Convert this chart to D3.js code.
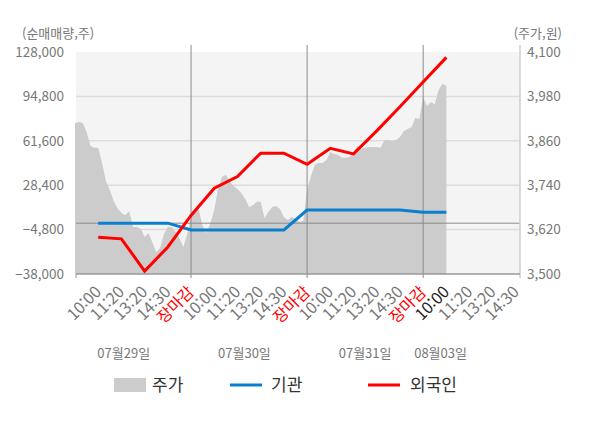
<!DOCTYPE html>
<html lang="ko">
<head>
<meta charset="utf-8"/>
<title>순매매량 / 주가</title>
<script src="https://d3js.org/d3.v7.min.js"></script>
<style>
  body { margin: 0; background: #fff; }
  text { font-family: "Noto Sans CJK KR", "Noto Sans", sans-serif; }
</style>
</head>
<body>
<script>
// data
var timeLabels = ["10:00", "11:20", "13:20", "14:30", "장마감",
                  "10:00", "11:20", "13:20", "14:30", "장마감",
                  "10:00", "11:20", "13:20", "14:30", "장마감",
                  "10:00", "11:20", "13:20", "14:30"];
var dates = ["07월29일", "07월30일", "07월31일", "08월03일"];

// net buying (shares) at slots 1..16
var gigwan  = [0, 0, 0, 0, -5100, -5100, -5100, -5100, -5100, 9800, 9800, 9800, 9800, 9800, 8100, 8100];
var foreign = [-10500, -11700, -35800, -17800, 5800, 26100, 34800, 52300, 52300, 44000, 56000, 51800, 69000, 87000, 105600, 124000];

// share price, sampled every 1/6 slot from slot 0 to slot 16
var price = [3908, 3911, 3908, 3884, 3846, 3841, 3841, 3800, 3751, 3727, 3697, 3678,
             3665, 3659, 3670, 3627, 3627, 3622, 3600, 3611, 3586, 3559, 3570, 3608,
             3627, 3627, 3614, 3597, 3573, 3608, 3654, 3676, 3673, 3630, 3611, 3638,
             3673, 3732, 3762, 3768, 3751, 3738, 3730, 3719, 3703, 3681, 3686, 3695,
             3695, 3651, 3668, 3681, 3684, 3676, 3654, 3646, 3654, 3649, 3641, 3643,
             3727, 3765, 3795, 3800, 3800, 3808, 3830, 3824, 3822, 3814, 3814, 3816,
             3830, 3846, 3838, 3841, 3843, 3843, 3843, 3841, 3862, 3862, 3859, 3862,
             3870, 3886, 3892, 3897, 3922, 3919, 3978, 3954, 3965, 3959, 3997, 4014, 4008];

var leftTicks  = [-38000, -4800, 28400, 61600, 94800, 128000];
var rightTicks = [3500, 3620, 3740, 3860, 3980, 4100];

// layout (plot box)
var w = 600, h = 428;
var pL = 76, pR = 520, pT = 52, pB = 274;
var dateSlot = [2.1, 7.3, 12.5, 15.75]; // where the date captions sit
var grey = "#777";

var svg = d3.select("body").append("svg")
    .attr("width", w)
    .attr("height", h);

var x = d3.scaleLinear().domain([0, 19]).range([75, 516]);
var yL = d3.scaleLinear().domain([-38000, 128000]).range([pB, pT]);
var yR = d3.scaleLinear().domain([3500, 4100]).range([pB, pT]);
var fmt = d3.format(",");

// plot background
svg.append("rect")
    .attr("x", pL).attr("y", pT)
    .attr("width", pR - pL).attr("height", pB - pT)
    .attr("fill", "#f4f4f4");

// horizontal grid
svg.selectAll(".grid")
    .data(leftTicks.slice(1, -1))
    .enter().append("line")
    .attr("x1", pL).attr("x2", pR)
    .attr("y1", function(d) { return yL(d); })
    .attr("y2", function(d) { return yL(d); })
    .attr("stroke", "#dcdcdc")
    .attr("stroke-width", 1.5);

// price area
var area = d3.area()
    .x(function(d, i) { return x(i / 6); })
    .y0(pB)
    .y1(function(d) { return yR(d); });

svg.append("path")
    .datum(price)
    .attr("d", area)
    .attr("fill", "#cccccc");

// zero line
svg.append("line")
    .attr("x1", pL).attr("x2", pR)
    .attr("y1", yL(0)).attr("y2", yL(0))
    .attr("stroke", "#8a8a8a")
    .attr("stroke-width", 1);

// day separators
svg.selectAll(".sep")
    .data([5, 10, 15])
    .enter().append("line")
    .attr("x1", function(d) { return x(d); })
    .attr("x2", function(d) { return x(d); })
    .attr("y1", 45).attr("y2", pB + 4)
    .attr("stroke", "#8a8a8a")
    .attr("stroke-width", 1);

// right border
svg.append("line")
    .attr("x1", pR).attr("x2", pR)
    .attr("y1", 45).attr("y2", pB + 4)
    .attr("stroke", "#cfcfcf")
    .attr("stroke-width", 1.5);

// bottom axis
svg.append("line")
    .attr("x1", pL).attr("x2", pR)
    .attr("y1", pB).attr("y2", pB)
    .attr("stroke", "#999")
    .attr("stroke-width", 1.5);
svg.append("line")
    .attr("x1", pL).attr("x2", pL)
    .attr("y1", pB).attr("y2", pB + 4)
    .attr("stroke", "#999");

// net buying lines
var line = d3.line()
    .x(function(d, i) { return x(i + 1); })
    .y(function(d) { return yL(d); });

svg.append("path")
    .datum(gigwan)
    .attr("d", line)
    .attr("fill", "none")
    .attr("stroke", "#0a7fd0")
    .attr("stroke-width", 3);

svg.append("path")
    .datum(foreign)
    .attr("d", line)
    .attr("fill", "none")
    .attr("stroke", "#ff0000")
    .attr("stroke-width", 3);

// left axis labels
svg.selectAll(".lt")
    .data(leftTicks)
    .enter().append("text")
    .attr("x", 64)
    .attr("y", function(d) { return yL(d); })
    .attr("dy", "0.35em")
    .attr("text-anchor", "end")
    .attr("font-size", "13.5px")
    .attr("fill", grey)
    .text(function(d) { return fmt(d); });

// right axis labels
svg.selectAll(".rt")
    .data(rightTicks)
    .enter().append("text")
    .attr("x", 527)
    .attr("y", function(d) { return yR(d); })
    .attr("dy", "0.35em")
    .attr("font-size", "13.5px")
    .attr("fill", grey)
    .text(function(d) { return fmt(d); });

// axis titles
svg.append("text")
    .attr("x", 22).attr("y", 33).attr("dy", "0.35em")
    .attr("font-size", "13px").attr("fill", grey)
    .text("(순매매량,주)");
svg.append("text")
    .attr("x", 562).attr("y", 33).attr("dy", "0.35em")
    .attr("text-anchor", "end")
    .attr("font-size", "13px").attr("fill", grey)
    .text("(주가,원)");

// time labels, rotated
svg.selectAll(".tl")
    .data(timeLabels)
    .enter().append("text")
    .attr("transform", function(d, i) { return "translate(" + x(i + 1) + "," + 289 + ") rotate(-45)"; })
    .attr("dy", "0.35em")
    .attr("text-anchor", "end")
    .attr("font-size", "16px")
    .attr("fill", function(d, i) {
        if (d == "장마감") return "#ff0000";
        if (i == 15) return "#222";
        return grey;
    })
    .text(function(d) { return d; });

// date captions
svg.selectAll(".dl")
    .data(dates)
    .enter().append("text")
    .attr("x", function(d, i) { return x(dateSlot[i]); })
    .attr("y", 353)
    .attr("dy", "0.35em")
    .attr("text-anchor", "middle")
    .attr("font-size", "13px")
    .attr("fill", grey)
    .text(function(d) { return d; });

// legend
var ly = 385;
svg.append("rect")
    .attr("x", 114).attr("y", ly - 7)
    .attr("width", 32).attr("height", 14)
    .attr("fill", "#cccccc");
svg.append("line")
    .attr("x1", 230).attr("x2", 262)
    .attr("y1", ly).attr("y2", ly)
    .attr("stroke", "#0a7fd0").attr("stroke-width", 3);
svg.append("line")
    .attr("x1", 368).attr("x2", 400)
    .attr("y1", ly).attr("y2", ly)
    .attr("stroke", "#ff0000").attr("stroke-width", 3);

var legendText = [["주가", 152], ["기관", 271], ["외국인", 410]];
svg.selectAll(".lg")
    .data(legendText)
    .enter().append("text")
    .attr("x", function(d) { return d[1]; })
    .attr("y", ly)
    .attr("dy", "0.35em")
    .attr("font-size", "17px")
    .attr("fill", "#333")
    .text(function(d) { return d[0]; });
</script>
</body>
</html>
